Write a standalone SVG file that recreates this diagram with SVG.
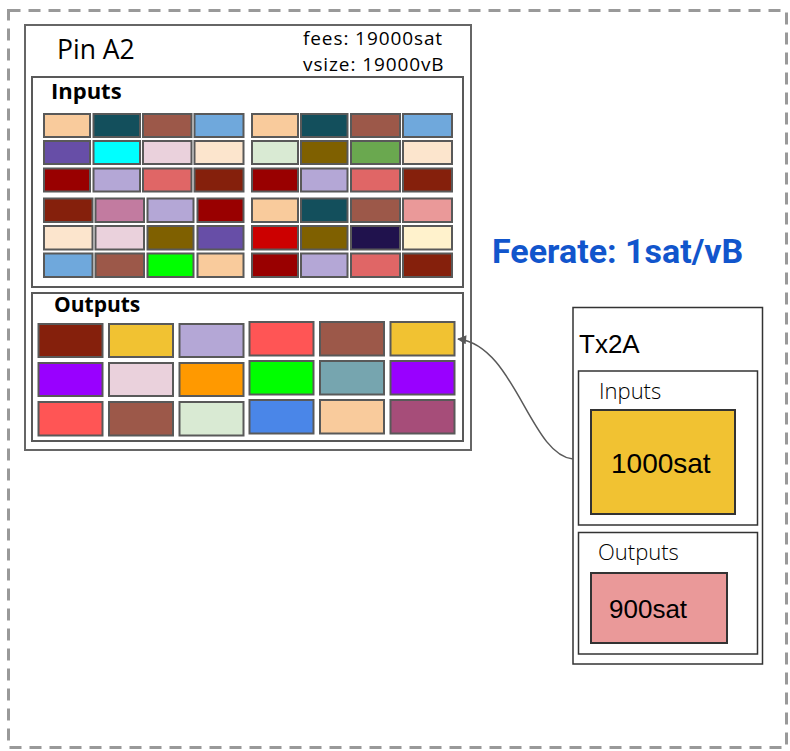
<svg xmlns="http://www.w3.org/2000/svg" width="790" height="751" viewBox="0 0 790 751">
<defs>
<style>
.frame{fill:none;stroke:#999;stroke-width:3;stroke-dasharray:12 8}
.box{fill:#fff;stroke:#666;stroke-width:2}
.sub{fill:#fff;stroke:#595959;stroke-width:2}
.c{stroke:#595959;stroke-width:2}
.tbox{fill:#fff;stroke:#333;stroke-width:1.5}
.val{stroke:#333;stroke-width:2}
.os{font-family:"Open Sans","Noto Sans",sans-serif;fill:#000}
.ar{font-family:"Liberation Sans",Arial,sans-serif;fill:#000}
.meta{font-size:19px;letter-spacing:0.9px}
.edge{fill:none;stroke:#595959;stroke-width:1.5}
</style>
<marker id="ah" viewBox="0 0 10 10" refX="9" refY="5" markerWidth="10" markerHeight="9" markerUnits="userSpaceOnUse" orient="auto">
<path d="M0,0 L10,5 L0,10 z" fill="#595959"/>
</marker>
</defs>
<rect x="0" y="0" width="790" height="751" fill="#fff"/>
<rect class="frame" x="8.5" y="10.5" width="778" height="737"/>

<g id="pinA2">
<rect class="box" x="25" y="25" width="446" height="425"/>
<text class="os" x="57" y="59" font-size="26.5">Pin A2</text>
<text class="os meta" x="303" y="45">fees: 19000sat</text>
<text class="os meta" x="303" y="71">vsize: 19000vB</text>
</g>

<g id="pinA2-inputs">
<rect class="sub" x="32" y="77" width="431" height="210"/>
<text class="os" x="51" y="99" font-size="22" font-weight="bold">Inputs</text>
<g class="c">
<rect x="44" y="114" width="46" height="23" fill="#f9cb9c"/>
<rect x="93.5" y="114" width="46.5" height="23" fill="#134f5c"/>
<rect x="143" y="114" width="48.5" height="23" fill="#9c5849"/>
<rect x="194.5" y="114" width="49" height="23" fill="#6fa8dc"/>
<rect x="252" y="114" width="46" height="23" fill="#f9cb9c"/>
<rect x="301" y="114" width="46.5" height="23" fill="#134f5c"/>
<rect x="351" y="114" width="49" height="23" fill="#9c5849"/>
<rect x="403" y="114" width="49" height="23" fill="#6fa8dc"/>

<rect x="44" y="141" width="46" height="23" fill="#674ea7"/>
<rect x="93.5" y="141" width="46.5" height="23" fill="#00ffff"/>
<rect x="143" y="141" width="48.5" height="23" fill="#ead1dc"/>
<rect x="194.5" y="141" width="49" height="23" fill="#fce5cd"/>
<rect x="252" y="141" width="46" height="23" fill="#d9ead3"/>
<rect x="301" y="141" width="46.5" height="23" fill="#7f6000"/>
<rect x="351" y="141" width="49" height="23" fill="#6aa84f"/>
<rect x="403" y="141" width="49" height="23" fill="#fce5cd"/>

<rect x="44" y="168.5" width="46" height="23" fill="#990000"/>
<rect x="93.5" y="168.5" width="46.5" height="23" fill="#b4a7d6"/>
<rect x="143" y="168.5" width="48.5" height="23" fill="#e06666"/>
<rect x="194.5" y="168.5" width="49" height="23" fill="#85200c"/>
<rect x="252" y="168.5" width="46" height="23" fill="#990000"/>
<rect x="301" y="168.5" width="46.5" height="23" fill="#b4a7d6"/>
<rect x="351" y="168.5" width="49" height="23" fill="#e06666"/>
<rect x="403" y="168.5" width="49" height="23" fill="#85200c"/>

<rect x="44" y="198.5" width="48.5" height="23.5" fill="#85200c"/>
<rect x="95.5" y="198.5" width="48.5" height="23.5" fill="#c27ba0"/>
<rect x="147.5" y="198.5" width="46" height="23.5" fill="#b4a7d6"/>
<rect x="197.5" y="198.5" width="46" height="23.5" fill="#990000"/>
<rect x="252" y="198.5" width="46" height="23.5" fill="#f9cb9c"/>
<rect x="301" y="198.5" width="46.5" height="23.5" fill="#134f5c"/>
<rect x="351" y="198.5" width="49" height="23.5" fill="#9c5849"/>
<rect x="403" y="198.5" width="49" height="23.5" fill="#ea9999"/>

<rect x="44" y="226" width="48.5" height="23.5" fill="#fce5cd"/>
<rect x="95.5" y="226" width="48.5" height="23.5" fill="#ead1dc"/>
<rect x="147.5" y="226" width="46" height="23.5" fill="#7f6000"/>
<rect x="197.5" y="226" width="46" height="23.5" fill="#674ea7"/>
<rect x="252" y="226" width="46" height="23.5" fill="#cc0000"/>
<rect x="301" y="226" width="46.5" height="23.5" fill="#7f6000"/>
<rect x="351" y="226" width="49" height="23.5" fill="#20124d"/>
<rect x="403" y="226" width="49" height="23.5" fill="#fff2cc"/>

<rect x="44" y="253.5" width="48.5" height="23.5" fill="#6fa8dc"/>
<rect x="95.5" y="253.5" width="48.5" height="23.5" fill="#9c5849"/>
<rect x="147.5" y="253.5" width="46" height="23.5" fill="#00ff00"/>
<rect x="197.5" y="253.5" width="46" height="23.5" fill="#f9cb9c"/>
<rect x="252" y="253.5" width="46" height="23.5" fill="#990000"/>
<rect x="301" y="253.5" width="46.5" height="23.5" fill="#b4a7d6"/>
<rect x="351" y="253.5" width="49" height="23.5" fill="#e06666"/>
<rect x="403" y="253.5" width="49" height="23.5" fill="#85200c"/>
</g>
</g>

<g id="pinA2-outputs">
<rect class="sub" x="32" y="293" width="431" height="148"/>
<text class="os" x="54" y="312" font-size="21" font-weight="bold">Outputs</text>
<g class="c">
<rect x="38.5" y="324" width="64" height="33" fill="#85200c"/>
<rect x="109" y="324" width="64" height="33" fill="#f1c232"/>
<rect x="179.5" y="324" width="64" height="33" fill="#b4a7d6"/>
<rect x="249.5" y="322" width="64" height="33.5" fill="#ff5555"/>
<rect x="320" y="322" width="64" height="33.5" fill="#9c5849"/>
<rect x="390.5" y="322" width="64" height="33.5" fill="#f1c232"/>

<rect x="38.5" y="363" width="64" height="33" fill="#9900ff"/>
<rect x="109" y="363" width="64" height="33" fill="#ead1dc"/>
<rect x="179.5" y="363" width="64" height="33" fill="#ff9900"/>
<rect x="249.5" y="361" width="64" height="33.5" fill="#00ff00"/>
<rect x="320" y="361" width="64" height="33.5" fill="#76a5af"/>
<rect x="390.5" y="361" width="64" height="33.5" fill="#9900ff"/>

<rect x="38.5" y="402" width="64" height="33.5" fill="#ff5555"/>
<rect x="109" y="402" width="64" height="33.5" fill="#9c5849"/>
<rect x="179.5" y="402" width="64" height="33.5" fill="#d9ead3"/>
<rect x="249.5" y="400" width="64" height="33.5" fill="#4a86e8"/>
<rect x="320" y="400" width="64" height="33.5" fill="#f9cb9c"/>
<rect x="390.5" y="400" width="64" height="33.5" fill="#a64d79"/>
</g>
</g>

<g id="feerate">
<text x="492" y="263" font-family="Roboto,'Liberation Sans',sans-serif" font-weight="bold" font-size="34" fill="#1155cc">Feerate: 1sat/vB</text>
</g>

<g id="tx2a">
<rect class="tbox" x="573" y="307.5" width="189.5" height="356.5"/>
<text class="ar" x="579" y="353" font-size="26">Tx2A</text>
</g>

<g id="tx2a-inputs">
<rect class="tbox" x="578.5" y="371" width="179" height="154"/>
<text class="os" x="599" y="399" font-size="22" font-weight="300" fill="#333">Inputs</text>
<rect class="val" x="591" y="410" width="144" height="104" fill="#f1c232"/>
<text class="ar" x="611" y="473" font-size="28">1000sat</text>
</g>

<g id="tx2a-outputs">
<rect class="tbox" x="578.5" y="532.5" width="179" height="121.5"/>
<text class="os" x="598" y="560" font-size="22" font-weight="300" fill="#333">Outputs</text>
<rect class="val" x="591" y="573" width="136" height="70" fill="#ea9999"/>
<text class="ar" x="609" y="618" font-size="26">900sat</text>
</g>

<g id="connectors">
<path class="edge" d="M573,459 C530,455 515,345 458,339" marker-end="url(#ah)"/>
</g>
</svg>
